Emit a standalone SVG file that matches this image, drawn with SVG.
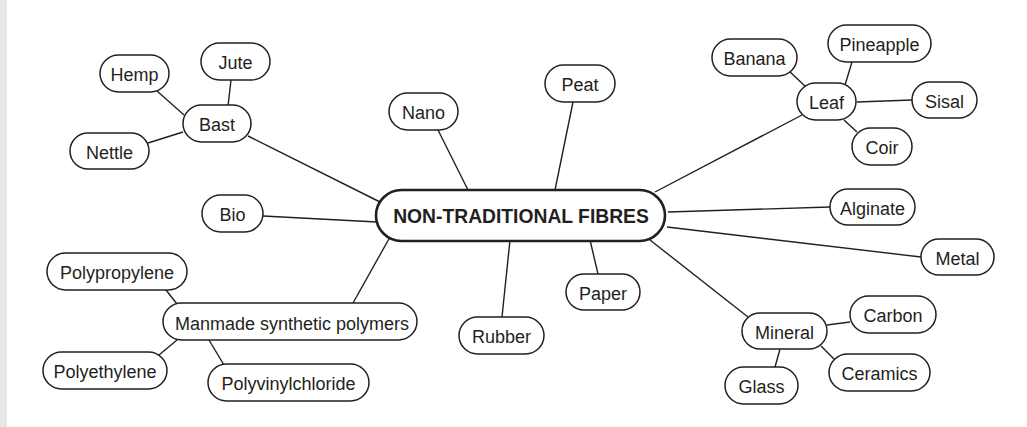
<svg xmlns="http://www.w3.org/2000/svg" width="1027" height="427" viewBox="0 0 1027 427">
<style>
.n rect{fill:#fff;stroke:#231f20;stroke-width:1.5}
.n text{font-family:"Liberation Sans",Arial,sans-serif;font-size:18px;fill:#231f20;text-anchor:middle}
#center rect{stroke-width:2.6}
#center text{font-weight:bold;font-size:19.3px}
#connectors line{stroke:#231f20;stroke-width:1.4}
</style>
<rect x="0" y="0" width="1027" height="427" fill="#fff"/>
<rect x="0" y="0" width="7" height="427" fill="#e6e7e8"/>
<g id="connectors">
<line x1="157" y1="91" x2="184" y2="115"/>
<line x1="231" y1="80" x2="228" y2="106"/>
<line x1="148" y1="143" x2="183" y2="132"/>
<line x1="248" y1="136" x2="380" y2="202"/>
<line x1="438" y1="130" x2="468" y2="190"/>
<line x1="573" y1="102" x2="555" y2="190"/>
<line x1="263" y1="216" x2="377" y2="222"/>
<line x1="353" y1="303" x2="390" y2="237"/>
<line x1="166" y1="290" x2="177" y2="304"/>
<line x1="159" y1="355" x2="177" y2="340"/>
<line x1="209" y1="340" x2="224" y2="365"/>
<line x1="510" y1="240" x2="502" y2="317"/>
<line x1="590" y1="240" x2="598" y2="274"/>
<line x1="650" y1="240" x2="748" y2="317"/>
<line x1="788" y1="70" x2="806" y2="87"/>
<line x1="852" y1="62" x2="845" y2="85"/>
<line x1="912" y1="100" x2="857" y2="102"/>
<line x1="857" y1="132" x2="844" y2="120"/>
<line x1="802" y1="115" x2="655" y2="192"/>
<line x1="830" y1="207" x2="668" y2="212"/>
<line x1="921" y1="257" x2="667" y2="227"/>
<line x1="850" y1="322" x2="827" y2="325"/>
<line x1="835" y1="360" x2="821" y2="346"/>
<line x1="775" y1="367" x2="780" y2="349"/>
</g>
<g id="center" class="n"><rect x="376" y="190" width="289" height="51" rx="25.5"/><text x="521" y="223">NON-TRADITIONAL FIBRES</text></g>
<g id="hemp" class="n"><rect x="100" y="55" width="69" height="37" rx="18.5"/><text x="134.5" y="81">Hemp</text></g>
<g id="jute" class="n"><rect x="201" y="43" width="69" height="37" rx="18.5"/><text x="235.5" y="69">Jute</text></g>
<g id="bast" class="n"><rect x="183" y="105" width="68" height="37" rx="18.5"/><text x="217" y="131">Bast</text></g>
<g id="nettle" class="n"><rect x="70" y="133" width="79" height="36" rx="18"/><text x="109.5" y="158.5">Nettle</text></g>
<g id="nano" class="n"><rect x="389" y="93" width="69" height="37" rx="18.5"/><text x="423.5" y="119">Nano</text></g>
<g id="peat" class="n"><rect x="545" y="65" width="70" height="37" rx="18.5"/><text x="580" y="91">Peat</text></g>
<g id="bio" class="n"><rect x="202" y="195" width="61" height="37" rx="18.5"/><text x="232.5" y="221">Bio</text></g>
<g id="polypropylene" class="n"><rect x="47" y="253" width="140" height="37" rx="18.5"/><text x="117" y="279">Polypropylene</text></g>
<g id="manmade" class="n"><rect x="163" y="303" width="254" height="37" rx="18.5"/><text x="292" y="329.5">Manmade synthetic polymers</text></g>
<g id="polyethylene" class="n"><rect x="43" y="352" width="124" height="37" rx="18.5"/><text x="105" y="378">Polyethylene</text></g>
<g id="polyvinylchloride" class="n"><rect x="208" y="364" width="161" height="37" rx="18.5"/><text x="288.5" y="390">Polyvinylchloride</text></g>
<g id="rubber" class="n"><rect x="459" y="317" width="85" height="37" rx="18.5"/><text x="501.5" y="343">Rubber</text></g>
<g id="paper" class="n"><rect x="566" y="274" width="74" height="36" rx="18"/><text x="603" y="299.5">Paper</text></g>
<g id="banana" class="n"><rect x="712" y="39" width="85" height="37" rx="18.5"/><text x="754.5" y="65">Banana</text></g>
<g id="pineapple" class="n"><rect x="828" y="25" width="103" height="37" rx="18.5"/><text x="879.5" y="51">Pineapple</text></g>
<g id="leaf" class="n"><rect x="797" y="83" width="59" height="37" rx="18.5"/><text x="826.5" y="109">Leaf</text></g>
<g id="sisal" class="n"><rect x="912" y="82" width="65" height="36" rx="18"/><text x="944.5" y="107.5">Sisal</text></g>
<g id="coir" class="n"><rect x="852" y="128" width="60" height="37" rx="18.5"/><text x="882" y="154">Coir</text></g>
<g id="alginate" class="n"><rect x="830" y="189" width="85" height="36" rx="18"/><text x="872.5" y="214.5">Alginate</text></g>
<g id="metal" class="n"><rect x="921" y="239" width="73" height="36" rx="18"/><text x="957.5" y="264.5">Metal</text></g>
<g id="carbon" class="n"><rect x="850" y="296" width="86" height="37" rx="18.5"/><text x="893" y="322">Carbon</text></g>
<g id="mineral" class="n"><rect x="742" y="313" width="85" height="36" rx="18"/><text x="784.5" y="338.5">Mineral</text></g>
<g id="ceramics" class="n"><rect x="829" y="354" width="101" height="37" rx="18.5"/><text x="879.5" y="380">Ceramics</text></g>
<g id="glass" class="n"><rect x="725" y="367" width="73" height="37" rx="18.5"/><text x="761.5" y="393">Glass</text></g>
</svg>
